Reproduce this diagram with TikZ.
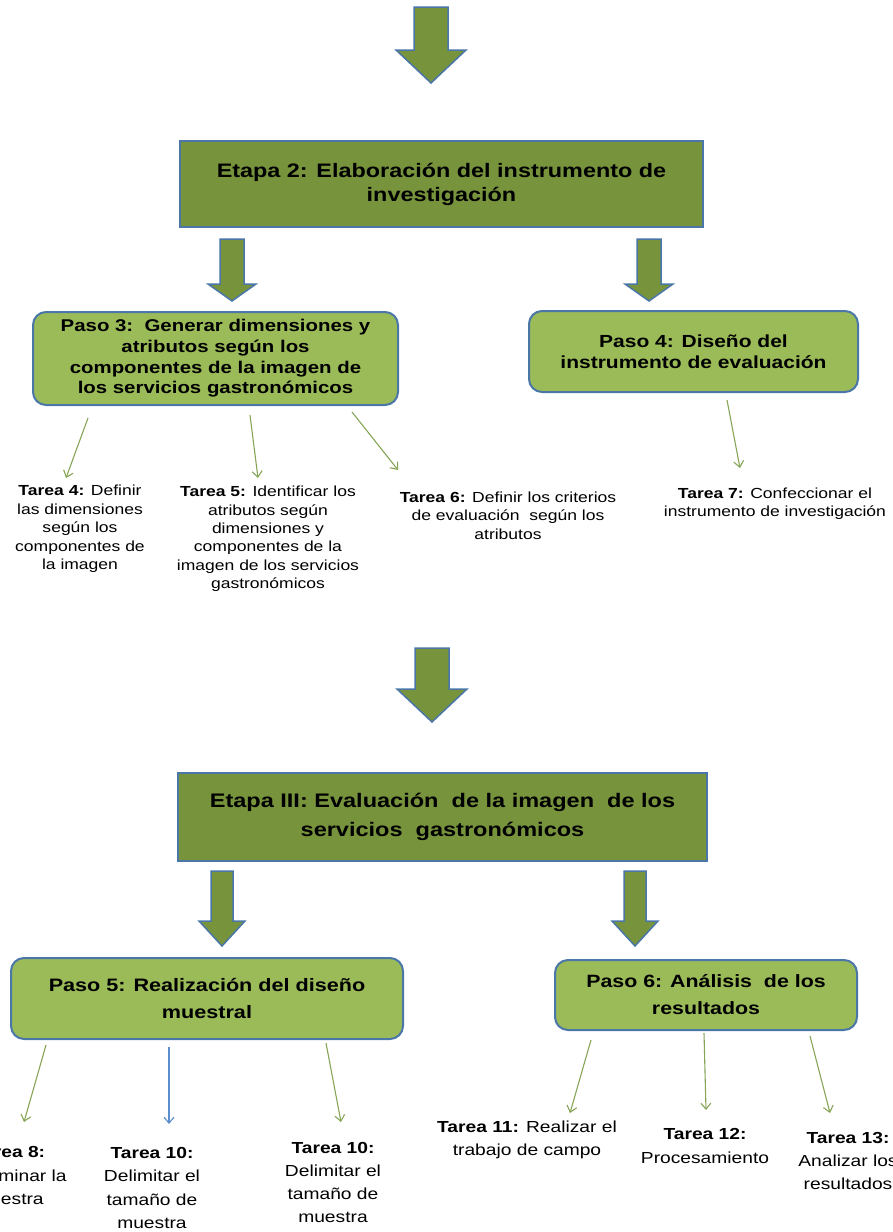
\documentclass[tikz,border=0pt]{standalone}
\usepackage{fontspec}
\setmainfont[FakeStretch=1.2]{Liberation Sans}
\usetikzlibrary{arrows.meta}

\definecolor{oscuro}{HTML}{77933C}
\definecolor{claro}{HTML}{9BBB59}
\definecolor{borde}{HTML}{4A76A8}
\definecolor{flecha}{HTML}{86A556}
\definecolor{azul}{HTML}{5B8FCC}

\tikzset{
  etapa/.style={rectangle, draw=borde, line width=2, fill=oscuro, align=center, inner sep=0},
  paso/.style={rectangle, rounded corners=13, draw=borde, line width=2, fill=claro, align=center, inner sep=0},
  tarea/.style={align=center, inner sep=0, font=\fontsize{14.6}{18.4}\selectfont},
  tareab/.style={align=center, inner sep=0, font=\fontsize{16}{23.3}\selectfont},
  bigarrow/.style={fill=oscuro, draw=borde, line width=1.5, line join=miter},
  thinarrow/.style={draw=flecha, line width=1.1, -{Straight Barb[length=6pt,width=10pt]}},
  pics/blockarrow/.style n args={4}{code={
    % #1 medio ancho del cuerpo, #2 medio ancho de la punta, #3 largo del cuerpo, #4 largo de la punta
    \draw[bigarrow] (-#1,0) -- (#1,0) -- (#1,#3) -- (#2,#3) -- (0,{#3+#4}) -- (-#2,#3) -- (-#1,#3) -- cycle;
  }}
}

\begin{document}
\begin{tikzpicture}[x=1pt, y=-1pt]
  \useasboundingbox (0,0) rectangle (892,1232);
  \clip (0,0) rectangle (892,1232);

  % flecha de entrada
  \pic at (431,7) {blockarrow={17}{35}{43}{33}};

  % Etapa 2
  \node[etapa, minimum width=523, minimum height=86, font=\bfseries\fontsize{19.5}{24}\selectfont] (etapa2) at (441.5,184)
    {Etapa 2: Elaboración del instrumento de\\investigación};

  \pic at (232,239) {blockarrow={12}{24}{45}{17}};
  \pic at (649,239) {blockarrow={12}{24}{45}{17}};

  \node[paso, minimum width=365, minimum height=93, font=\bfseries\fontsize{17}{20.7}\selectfont] (paso3) at (215.5,358.5)
    {Paso 3:\ \ Generar dimensiones y\\atributos según los\\componentes de la imagen de\\los servicios gastronómicos};
  \node[paso, minimum width=329, minimum height=81, font=\bfseries\fontsize{17.5}{20.5}\selectfont] (paso4) at (693.5,351.5)
    {Paso 4: Diseño del\\instrumento de evaluación};

  \node[tarea] (tarea4) at (80,529)
    {\textbf{Tarea 4:} Definir\\las dimensiones\\según los\\componentes de\\la imagen};
  \node[tarea] (tarea5) at (268,539)
    {\textbf{Tarea 5:} Identificar los\\atributos según\\dimensiones y\\componentes de la\\imagen de los servicios\\gastronómicos};
  \node[tarea] (tarea6) at (508,515.5)
    {\textbf{Tarea 6:} Definir los criterios\\de evaluación\ \ según los\\atributos};
  \node[tarea] (tarea7) at (775,504)
    {\textbf{Tarea 7:} Confeccionar el\\instrumento de investigación};

  \coordinate (s4) at (88,418);   \coordinate (e4) at (66,478);
  \coordinate (s5) at (250,415);  \coordinate (e5) at (258,478);
  \coordinate (s6) at (352,412);  \coordinate (e6) at (398,470);
  \coordinate (s7) at (727,400);  \coordinate (e7) at (740,468);
  \draw[thinarrow] (s4) -- (e4);
  \draw[thinarrow] (s5) -- (e5);
  \draw[thinarrow] (s6) -- (e6);
  \draw[thinarrow] (s7) -- (e7);

  % Etapa III
  \pic at (432,648) {blockarrow={17}{35}{41}{33}};

  \node[etapa, minimum width=529, minimum height=88, font=\bfseries\fontsize{19.6}{29}\selectfont] (etapa3) at (442.5,817)
    {Etapa III:\ Evaluación\ \ de la imagen\ \ de los\\servicios\ \ gastronómicos};

  \pic at (222,871) {blockarrow={11}{23}{50}{25}};
  \pic at (635,871) {blockarrow={11}{23}{50}{25}};

  \node[paso, minimum width=392, minimum height=81, font=\bfseries\fontsize{18}{27}\selectfont] (paso5) at (207,998.5)
    {Paso 5: Realización del diseño\\muestral};
  \node[paso, minimum width=302, minimum height=70, font=\bfseries\fontsize{17.8}{27}\selectfont] (paso6) at (706,995)
    {Paso 6: Análisis\ \ de los\\resultados};

  \node[tareab] (tarea8) at (9,1175.5)
    {\textbf{Tarea 8:}\\Determinar la\\muestra};
  \node[tareab] (tarea10a) at (152,1188)
    {\textbf{Tarea 10:}\\Delimitar el\\tamaño de\\muestra};
  \node[tareab] (tarea10b) at (333,1182.5)
    {\textbf{Tarea 10:}\\Delimitar el\\tamaño de\\muestra};
  \node[tareab] (tarea11) at (527,1139.5)
    {\textbf{Tarea 11:} Realizar el\\trabajo de campo};
  \node[tareab] (tarea12) at (705,1146)
    {\textbf{Tarea 12:}\\Procesamiento};
  \node[tareab] (tarea13) at (848,1161)
    {\textbf{Tarea 13:}\\Analizar los\\resultados};

  \coordinate (s8) at (46,1045);    \coordinate (e8) at (24,1122);
  \coordinate (s9) at (169,1047);   \coordinate (e9) at (169,1124);
  \coordinate (s10) at (326,1043);  \coordinate (e10) at (341,1122);
  \coordinate (s11) at (591,1040);  \coordinate (e11) at (570,1113);
  \coordinate (s12) at (704,1033);  \coordinate (e12) at (706,1110);
  \coordinate (s13) at (810,1036);  \coordinate (e13) at (830,1113);
  \draw[thinarrow] (s8) -- (e8);
  \draw[thinarrow, draw=azul] (s9) -- (e9);
  \draw[thinarrow] (s10) -- (e10);
  \draw[thinarrow] (s11) -- (e11);
  \draw[thinarrow] (s12) -- (e12);
  \draw[thinarrow] (s13) -- (e13);
\end{tikzpicture}
\end{document}
